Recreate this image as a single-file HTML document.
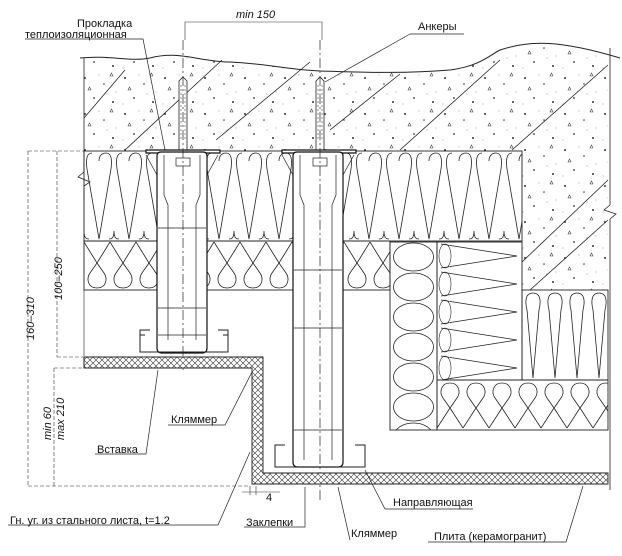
<!DOCTYPE html>
<html><head><meta charset="utf-8"><style>
html,body{margin:0;padding:0;background:#fff}
svg{display:block}
text{font-family:"Liberation Sans","DejaVu Sans",sans-serif;font-size:11px;fill:#111}
</style></head><body>
<svg width="622" height="556" viewBox="0 0 622 556" xmlns="http://www.w3.org/2000/svg">
<defs>
<pattern id="conc" width="40" height="36" patternUnits="userSpaceOnUse">
<rect width="40" height="36" fill="#fff"/>
<circle cx="5" cy="6" r="1" fill="#333"/><circle cx="24" cy="12" r="0.8" fill="#333"/>
<circle cx="14" cy="26" r="0.9" fill="#333"/><circle cx="33" cy="30" r="1" fill="#333"/>
<path d="M30 4 l3 0 l-1.5 -3z M8 18 l3 0 l-1.5 -3z" fill="none" stroke="#444" stroke-width="0.6"/>
<circle cx="19" cy="3" r="0.5" fill="#777"/><circle cx="36" cy="20" r="0.5" fill="#777"/>
<circle cx="3" cy="32" r="0.5" fill="#777"/><circle cx="27" cy="22" r="0.5" fill="#777"/>
</pattern>
<pattern id="wool1" x="84" y="151" width="30" height="90" patternUnits="userSpaceOnUse">
<path d="M8 2 C2 2 2 10 3 18 L15 88 L27 18 C28 10 28 2 22 2 C17 2 15 6 15 10" fill="none" stroke="#222" stroke-width="0.8"/>
<path d="M0 80 C0 88 3 88 5 88 M30 80 C30 88 27 88 25 88" fill="none" stroke="#222" stroke-width="0.8"/>
</pattern>
<pattern id="wool2" x="84" y="241" width="26" height="49" patternUnits="userSpaceOnUse">
<path d="M13 47 C4 47 2 38 6 32 L13 22 L20 32 C24 38 22 47 13 47 Z M0 1 L13 22 M26 1 L13 22" fill="none" stroke="#222" stroke-width="0.8"/>
</pattern>
<pattern id="hatch" width="6" height="6" patternUnits="userSpaceOnUse">
<rect width="6" height="6" fill="#fff"/>
<path d="M0 6 L6 0 M0 0 L6 6" stroke="#333" stroke-width="0.6"/>
</pattern>
<pattern id="circ" x="390" y="242" width="47" height="30" patternUnits="userSpaceOnUse">
<ellipse cx="23.5" cy="15" rx="20" ry="14" fill="none" stroke="#222" stroke-width="0.8"/>
</pattern>
<pattern id="zig" x="437" y="242" width="83" height="28" patternUnits="userSpaceOnUse">
<path d="M4 2 L80 14 L4 26" fill="none" stroke="#222" stroke-width="0.8"/>
<ellipse cx="8" cy="14" rx="6" ry="12" fill="none" stroke="#222" stroke-width="0.6"/>
</pattern>
<pattern id="wool3" x="522" y="290" width="22" height="90" patternUnits="userSpaceOnUse">
<path d="M11 3 C3 3 3 12 5 20 L11 88 L17 20 C19 12 19 3 11 3" fill="none" stroke="#222" stroke-width="0.8"/>
</pattern>
<pattern id="wool4" x="437" y="380" width="26" height="50" patternUnits="userSpaceOnUse">
<path d="M13 3 C4 3 2 12 6 18 L13 28 L20 18 C24 12 22 3 13 3 Z M0 48 L13 28 M26 48 L13 28" fill="none" stroke="#222" stroke-width="0.8"/>
</pattern>
</defs>

<!-- concrete -->
<path d="M84 58 C110 55 130 62 150 58 C180 50 200 62 230 62 C270 64 290 70 320 71 C360 72 400 74 450 70 C480 66 490 55 500 50 C530 40 560 40 608 55 L608 290 L522 290 L522 151 L84 151 Z" fill="url(#conc)"/>
<path d="M80 58 C110 55 130 62 150 58 C180 50 200 62 230 62 C270 64 290 70 320 71 C360 72 400 74 450 70 C480 66 490 55 500 50 C530 40 560 40 620 58" fill="none" stroke="#222" stroke-width="1"/>
<g stroke="#222" stroke-width="0.8" fill="none">
<path d="M84 118 L125 70 M125 150 L222 60 M216 140 L310 62 M330 130 L400 74 M400 150 L500 60 M512 150 L608 65 M522 262 L608 180 M530 290 L608 220"/>
<path d="M84 58 L84 172 L78 177 L90 182 L84 186 L84 200"/>
<path d="M610 48 L610 205 L604 210 L616 214 L610 219 L610 490"/>
</g>

<!-- insulation -->
<rect x="84" y="151" width="438" height="90" fill="url(#wool1)" stroke="#222" stroke-width="0.9"/>
<rect x="84" y="241" width="306" height="49" fill="url(#wool2)" stroke="#222" stroke-width="0.9"/>
<rect x="390" y="242" width="47" height="188" fill="url(#circ)" stroke="#222" stroke-width="0.9"/>
<rect x="437" y="242" width="85" height="138" fill="url(#zig)" stroke="#222" stroke-width="0.9"/>
<rect x="522" y="290" width="86" height="90" fill="url(#wool3)" stroke="#222" stroke-width="0.9"/>
<rect x="437" y="380" width="171" height="50" fill="url(#wool4)" stroke="#222" stroke-width="0.9"/>
<line x1="84" y1="290" x2="84" y2="356" stroke="#222" stroke-width="0.6"/>

<!-- anchors -->
<g stroke="#222" stroke-width="0.8" fill="#fff">
<path d="M179 151 L179 81 L183 77 L187 81 L187 151 Z"/>
<path d="M316 151 L316 81 L320 77 L324 81 L324 151 Z"/>
</g>
<g stroke="#222" stroke-width="0.5" stroke-dasharray="2 2"><line x1="181" y1="85" x2="181" y2="140"/><line x1="185" y1="85" x2="185" y2="140"/><line x1="318" y1="85" x2="318" y2="140"/><line x1="322" y1="85" x2="322" y2="140"/></g>

<!-- brackets -->
<g stroke="#111" stroke-width="1.2" fill="#fff">
<path d="M146 150 L220 150 L220 153 L146 153 Z"/>
<path d="M157 156 Q157 152 161 152 L203 152 Q207 152 207 156 L207 348 Q207 353 202 353 L162 353 Q157 353 157 348 Z"/>
<path d="M282 150 L356 150 L356 153 L282 153 Z"/>
<path d="M293 156 Q293 152 297 152 L339 152 Q343 152 343 156 L343 462 Q343 467 338 467 L298 467 Q293 467 293 462 Z"/>
</g>
<g stroke="#222" stroke-width="0.7" fill="none">
<path d="M146 155 L157 175 M218 155 L207 175 M282 155 L293 175 M354 155 L343 175"/>
<path d="M164 155 L164 195 L168 205 L168 340 M200 155 L200 195 L196 205 L196 340"/>
<path d="M300 155 L300 195 L304 205 L304 460 M336 155 L336 195 L332 205 L332 460"/>
<path d="M158 228 L206 228 M158 308 L206 308 M158 335 L206 335 M294 270 L342 270 M294 328 L342 328 M294 430 L342 430"/>
<rect x="176" y="158" width="14" height="8"/><rect x="313" y="158" width="14" height="8"/>
<path d="M183 40 L183 370 M320 40 L320 500" stroke-dasharray="10 3 2 3"/>
<!-- C guides -->
<path d="M150 330 L140 330 L140 352 L228 352 L228 330 L218 330 M140 335 L145 335 M228 335 L223 335" stroke-width="1"/>
<path d="M285 445 L275 445 L275 467 L365 467 L365 445 L355 445" stroke-width="1"/>
</g>

<!-- cladding -->
<path d="M84 357 L263 357 L263 473 L608 473 L608 484 L252 484 L252 368 L84 368 Z" fill="url(#hatch)" stroke="#222" stroke-width="0.9"/>
<line x1="84" y1="357" x2="84" y2="368" stroke="#222"/>

<!-- dimensions -->
<g stroke="#333" stroke-width="0.6" fill="none">
<path d="M185 40 L185 22 L322 22 L322 40"/>
<path d="M28 151 L84 151 M28 151 L28 486 M28 486 L250 486 M57 151 L57 357 M57 357 L84 357 M54 368 L84 368 M54 368 L54 486" stroke-dasharray="4 2"/>
<path d="M250 486 L250 495 M256 486 L256 495 M242 492 L280 492"/>
</g>
<text x="236" y="18" font-size="10" fill="#555" font-style="italic">min 150</text>
<text transform="translate(62 300) rotate(-90)" font-size="10" font-style="italic" fill="#555">100–250</text>
<text transform="translate(34 340) rotate(-90)" font-size="10" font-style="italic" fill="#555">160–310</text>
<text transform="translate(51 440) rotate(-90)" font-size="10" font-style="italic" fill="#555">min 60</text>
<text transform="translate(64 440) rotate(-90)" font-size="10" font-style="italic" fill="#555">max 210</text>
<text x="266" y="501" font-size="10">4</text>

<!-- labels -->
<g stroke="#222" stroke-width="0.7" fill="none">
<path d="M25 39 L143 39 L165 150"/>
<path d="M410 34 L464 34 M410 34 L325 82"/>
<path d="M168 425 L225 425 L252 372"/>
<path d="M95 454 L146 454 L158 370"/>
<path d="M8 525 L218 525 L250 452"/>
<path d="M244 527 L305 527 L305 487"/>
<path d="M385 509 L473 509 M385 509 L365 470"/>
<path d="M350 540 L338 487"/>
<path d="M428 542 L566 542 L583 486"/>
</g>
<text x="77" y="27">Прокладка</text>
<text x="25" y="38">теплоизоляционная</text>
<text x="418" y="30">Анкеры</text>
<text x="171" y="423">Кляммер</text>
<text x="97" y="453">Вставка</text>
<text x="10" y="524">Гн. уг. из стального листа, t=1.2</text>
<text x="246" y="526">Заклепки</text>
<text x="393" y="506">Направляющая</text>
<text x="351" y="537">Кляммер</text>
<text x="434" y="540">Плита (керамогранит)</text>
</svg>
</body></html>
